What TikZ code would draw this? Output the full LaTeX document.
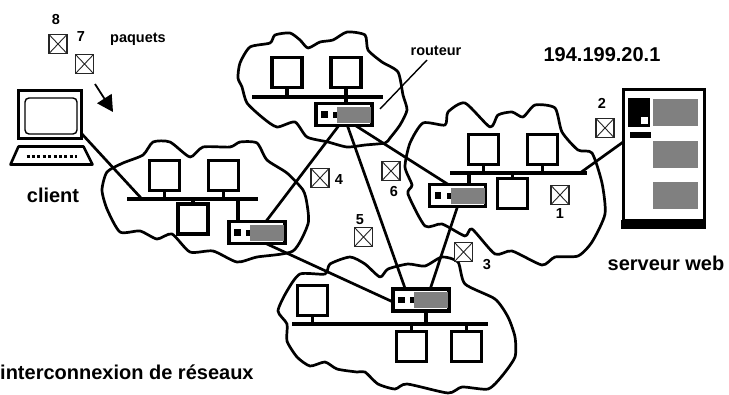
\documentclass[tikz,border=0pt]{standalone}
\usepackage{fontspec}
\setmainfont{Liberation Sans}
\usetikzlibrary{arrows.meta,positioning,calc}

\begin{document}
\begin{tikzpicture}[
  x=1pt, y=-1pt,
  nuage/.style={line width=2.7pt, line join=round, tension=0.4},
  hote/.style={draw=black, fill=white, rectangle, line width=3.2pt, minimum width=30pt,
    minimum height=30pt, inner sep=0pt, outer sep=0pt},
  bus/.style={fill=black, rectangle, minimum height=4pt, inner sep=0pt, outer sep=0pt},
  routeur/.style={draw=black, fill=white, rectangle, line width=3.2pt, minimum width=56pt,
    minimum height=22pt, inner sep=0pt, outer sep=0pt},
  ecran/.style={fill=black!50, rectangle, minimum width=34pt, minimum height=16pt,
    inner sep=0pt, outer sep=0pt},
  voyant/.style={fill=black, rectangle, minimum size=6.5pt, inner sep=0pt, outer sep=0pt},
  paquet/.style={draw=black!85, fill=white, rectangle, line width=1.4pt, minimum width=18pt,
    minimum height=19pt, inner sep=0pt, outer sep=0pt,
    path picture={\draw[line width=0.9pt] (path picture bounding box.north west) -- (path picture bounding box.south east)
      (path picture bounding box.north east) -- (path picture bounding box.south west);}},
  lien/.style={line width=2.7pt},
  stub/.style={line width=3.6pt},
  lbl/.style={font=\fontsize{14.5}{16}\selectfont\bfseries, inner sep=0pt},
  lblg/.style={font=\fontsize{20}{22}\selectfont\bfseries, inner sep=0pt},
  gris/.style={fill=black!50, rectangle, minimum width=45pt, minimum height=27pt,
    inner sep=0pt, outer sep=0pt},
]
\useasboundingbox (0,0) rectangle (729,394);

%--- Nuages ---
\draw[nuage] plot[smooth cycle] coordinates {(238,78) (240,63) (250,47) (270,43) (275,35) (290,33)
  (300,40) (308,48) (320,42) (333,40) (347,32) (365,35) (368,50) (382,62) (398,72) (403,95)
  (407,110) (400,125) (390,138) (385,143) (365,145) (347,147) (328,142) (307,137) (295,122)
  (277,127) (263,118) (247,103) (242,87)};
\draw[nuage] plot[smooth cycle] coordinates {(102,190) (107,172) (123,163) (143,155) (153,142)
  (170,142) (190,157) (203,147) (230,147) (240,142) (257,143) (267,160) (287,173) (303,190)
  (307,204) (308,224) (293,251) (257,257) (237,262) (213,251) (190,252) (172,234) (157,239)
  (140,231) (120,232) (107,209)};
\draw[nuage] plot[smooth cycle] coordinates {(405,167) (410,143) (423,123) (445,125) (448,112)
  (465,103) (490,127) (498,115) (512,112) (523,117) (535,105) (555,108) (562,132) (578,150)
  (592,153) (602,183) (605,214) (592,242) (578,256) (555,257) (542,265) (512,251) (495,254)
  (472,229) (465,236) (442,224) (425,226) (408,194) (412,185)};
\draw[nuage] plot[smooth cycle] coordinates {(278,311) (287,291) (300,274) (325,274) (330,264)
  (350,257) (365,264) (380,277) (388,269) (408,264) (425,266) (442,257) (458,262) (465,284)
  (495,299) (508,317) (515,337) (515,357) (502,376) (488,389) (462,387) (448,393) (407,384)
  (395,389) (378,384) (365,372) (357,372) (337,369) (325,362) (310,366) (297,357) (287,341)
  (287,324)};

%--- Reseau du haut ---
\node[hote] (h1a) at (287,72.5) {};
\node[hote] (h1b) at (346,72.5) {};
\node[bus, minimum width=131pt] (b1) at (317.5,97) {};
\node[routeur] (r1) at (344,114.5) {};
\draw[stub] (h1a.south) -- (h1a.south |- b1.north);
\draw[stub] (h1b.south) -- (h1b.south |- r1.north);

%--- Reseau du client ---
\node[hote] (h2a) at (164.5,175.5) {};
\node[hote] (h2b) at (223.5,175.5) {};
\node[bus, minimum width=131pt] (b2) at (192.5,198.5) {};
\node[hote] (h2c) at (193,219) {};
\node[routeur] (r2) at (257,232.5) {};
\draw[stub] (h2a.south) -- (h2a.south |- b2.north);
\draw[stub] (h2b.south) -- (h2b.south |- b2.north);
\draw[stub] (h2c.north) -- (h2c.north |- b2.south);
\coordinate (s2) at (238,220);
\draw[stub] (s2) -- (s2 |- b2.south);

%--- Reseau du serveur ---
\node[hote] (h3a) at (483.5,149.5) {};
\node[hote] (h3b) at (542.5,149.5) {};
\node[bus, minimum width=137pt] (b3) at (518.5,173) {};
\node[hote] (h3c) at (512.5,193.5) {};
\node[routeur] (r3) at (457.5,195.5) {};
\draw[stub] (h3a.south) -- (h3a.south |- b3.north);
\draw[stub] (h3b.south) -- (h3b.south |- b3.north);
\draw[stub] (h3c.north) -- (h3c.north |- b3.south);
\coordinate (s3) at (469,183);
\draw[stub] (s3) -- (s3 |- b3.south);

%--- Reseau du bas ---
\node[hote] (h4a) at (312.5,300.5) {};
\node[hote] (h4b) at (411.5,346.5) {};
\node[hote] (h4c) at (466.5,346.5) {};
\node[bus, minimum width=196pt] (b4) at (390,324) {};
\node[routeur] (r4) at (421,300) {};
\draw[stub] (h4a.south) -- (h4a.south |- b4.north);
\draw[stub] (h4b.north) -- (h4b.north |- b4.south);
\draw[stub] (h4c.north) -- (h4c.north |- b4.south);
\coordinate (s4) at (426,312);
\draw[stub] (s4) -- (s4 |- b4.north);

%--- Details des routeurs ---
\foreach \rt in {r1,r2,r3,r4} {
  \node[ecran, left=1pt of \rt.east] (\rt s) {};
  \node[voyant, right=5pt of \rt.west] (\rt v) {};
  \fill (\rt s.west) ++(-4,-3) rectangle ++(4,6);
}

%--- Client ---
\node[draw=black, fill=white, rectangle, line width=3.6pt, minimum width=63pt, minimum height=48pt,
  inner sep=0pt, outer sep=0pt] (ecr) at (50,114.5) {};
\node[draw=black, rectangle, rounded corners=4pt, line width=1.4pt, minimum width=52pt,
  minimum height=36pt, inner sep=0pt] (dalle) at (51,116) {};
\coordinate (clavier) at (51.5,155.5);
\draw[fill=white, line width=2.6pt, line join=round] ($(clavier)+(-33,-9)$) -- ($(clavier)+(32,-9)$)
  -- ($(clavier)+(41,9)$) -- ($(clavier)+(-41,9)$) -- cycle;
\draw[line width=3pt, dash pattern=on 3pt off 2.4pt] ($(clavier)+(-25,0.5)$) -- ($(clavier)+(25,0.5)$);

%--- Serveur ---
\node[draw=black, fill=white, rectangle, line width=3pt, minimum width=81pt, minimum height=131pt,
  inner sep=0pt, outer sep=0pt] (srv) at (663.5,154.5) {};
\node[fill=black, rectangle, minimum width=85pt, minimum height=9pt, inner sep=0pt, below=0pt of srv] (socle) {};
\node[fill=black, rectangle, minimum width=22pt, minimum height=29pt, inner sep=0pt] (disq) at (639,112.5) {};
\node[fill=white, rectangle, minimum size=7pt, inner sep=0pt] (fente) at (644.5,120.5) {};
\node[fill=black, rectangle, minimum width=21pt, minimum height=6pt, inner sep=0pt] (barre) at (640.5,135) {};
\node[gris] (g1) at (675.5,112.5) {};
\node[gris] (g2) at (675.5,154.5) {};
\node[gris] (g3) at (675.5,195.5) {};

%--- Liens ---
\coordinate (cb2) at (141,198);
\coordinate (cb3) at (580,173);
\draw[lien] (ecr.south east) ++(0,-5) -- (cb2);
\draw[lien] (srv.163) -- (cb3);
\draw[lien] (r1.-115) -- (r2.51);
\draw[lien] (r1.-44) -- (r3.130);
\draw[lien] (r1.-73) -- (r4.145);
\draw[lien] (r3.south) -- (r4.50);
\draw[lien] (r2.-51) -- (r4.184);

%--- Paquets ---
\node[paquet] (p8) at (58,44) {};
\node[paquet] (p7) at (84.5,64) {};
\node[paquet] (p4) at (320,178) {};
\node[paquet] (p6) at (391,171) {};
\node[paquet] (p2) at (605,128) {};
\node[paquet] (p1) at (560,195) {};
\node[paquet] (p3) at (463.5,252) {};
\node[paquet] (p5) at (363.5,237) {};
\coordinate (fd) at (95,84);
\coordinate (fa) at (113,112);
\draw[-{Triangle[length=16pt,width=17pt]}, line width=1.8pt] (fd) -- (fa);

%--- Textes ---
\node[lbl] (t8) at (56,20) {8};
\node[lbl] (t7) at (81,37) {7};
\node[lbl] (t4) at (339,180) {4};
\node[lbl] (t6) at (394,192) {6};
\node[lbl] (t2) at (602,103) {2};
\node[lbl] (t1) at (560,214) {1};
\node[lbl] (t3) at (487,265) {3};
\node[lbl] (t5) at (360,220) {5};
\node[lbl] (tpaq) at (138,39) {paquets};
\node[lbl] (trout) at (436,51) {routeur};
\node[lblg] (tcli) at (53,195) {client};
\node[lblg] (tip) at (602,55) {194.199.20.1};
\node[lblg] (tsrv) at (666,263) {serveur web};
\node[lblg, anchor=west] (ttit) at (0,372) {interconnexion de réseaux};
\coordinate (fl) at (380,109);
\draw[line width=1.4pt] (trout.south) ++(-9,4) -- (fl);

\end{tikzpicture}
\end{document}
